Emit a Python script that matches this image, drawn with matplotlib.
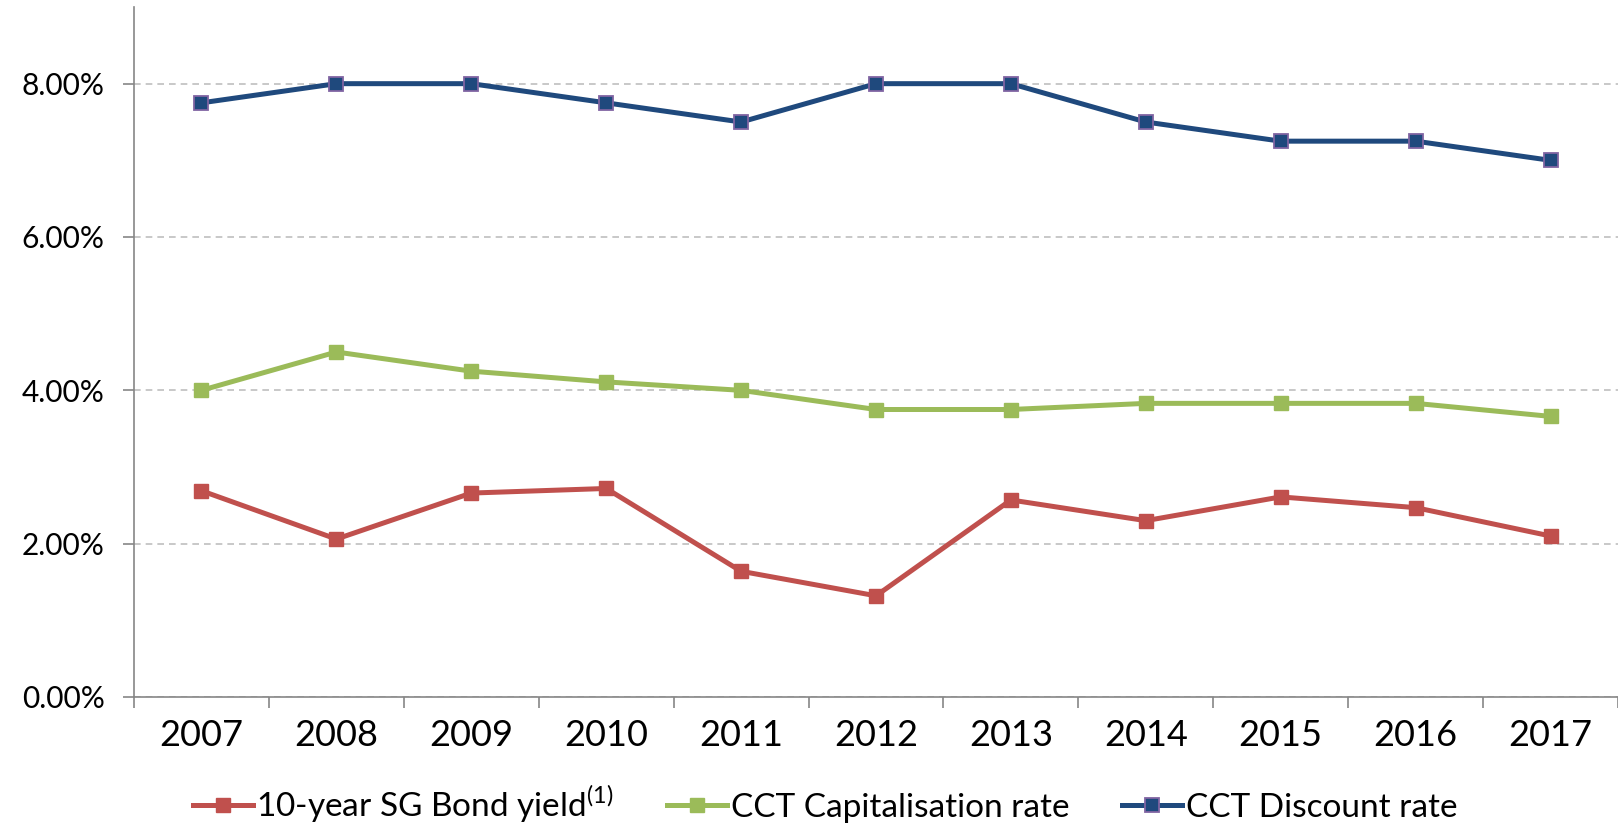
import matplotlib
matplotlib.use("Agg")
import matplotlib.pyplot as plt
from matplotlib.ticker import FixedLocator, FuncFormatter

plt.rcParams['font.family'] = ['Lato', 'DejaVu Sans']
plt.rcParams['mathtext.fontset'] = 'custom'
plt.rcParams['mathtext.rm'] = 'Lato'

years = ['2007', '2008', '2009', '2010', '2011', '2012',
         '2013', '2014', '2015', '2016', '2017']
bond_yield = [2.69, 2.06, 2.66, 2.72, 1.64, 1.32, 2.57, 2.30, 2.61, 2.47, 2.10]
cap_rate = [4.00, 4.50, 4.25, 4.11, 4.00, 3.75, 3.75, 3.83, 3.83, 3.83, 3.66]
discount_rate = [7.75, 8.00, 8.00, 7.75, 7.50, 8.00, 8.00, 7.50, 7.25, 7.25, 7.00]
y_ticks = [0, 2, 4, 6, 8]

fig = plt.figure(figsize=(16.18, 8.27), dpi=100)
ax = fig.add_axes([134 / 1618, 130 / 827, 1 - 134 / 1618, 690 / 827])

x = range(len(years))
ax.plot(x, bond_yield, color='#C0504D', lw=3.6, marker='s', ms=10,
        mfc='#C0504D', mec='#C0504D', label='10-year SG Bond yield$^{\\mathrm{(1)}}$')
ax.plot(x, cap_rate, color='#9BBB59', lw=3.6, marker='s', ms=10,
        mfc='#9BBB59', mec='#9BBB59', label='CCT Capitalisation rate')
ax.plot(x, discount_rate, color='#1F497D', lw=3.6, marker='s', ms=10,
        mfc='#1F497D', mec='#8064A2', mew=1.3, label='CCT Discount rate')

ax.set_xlim(-0.5, len(years) - 0.5)
ax.set_ylim(0, 9)
ax.yaxis.set_major_locator(FixedLocator(y_ticks))
ax.yaxis.set_major_formatter(FuncFormatter(lambda v, p: f"{v:.2f}%"))
ax.grid(axis='y', color='#BFBFBF', ls=(0, (4, 3)), lw=1.2)
ax.set_axisbelow(True)

ax.set_xticks(list(x))
ax.set_xticklabels(years)
ax.set_xticks([i - 0.5 for i in range(len(years) + 1)], minor=True)
ax.tick_params(axis='x', which='major', length=0, pad=16, labelsize=26)
ax.tick_params(axis='x', which='minor', length=8, width=1.2, color='#868686')
ax.tick_params(axis='y', length=8, width=1.2, color='#868686', pad=13, labelsize=21.5)

for side in ['top', 'right']:
    ax.spines[side].set_visible(False)
for side in ['left', 'bottom']:
    ax.spines[side].set_color('#868686')
    ax.spines[side].set_linewidth(1.2)

fig.legend(loc='center', bbox_to_anchor=(0.51, 0.028), ncol=3, frameon=False,
           fontsize=24, handlelength=1.8, handletextpad=0.1, columnspacing=1.6,
           borderpad=0.2)

fig.savefig('out.png', dpi=100)
